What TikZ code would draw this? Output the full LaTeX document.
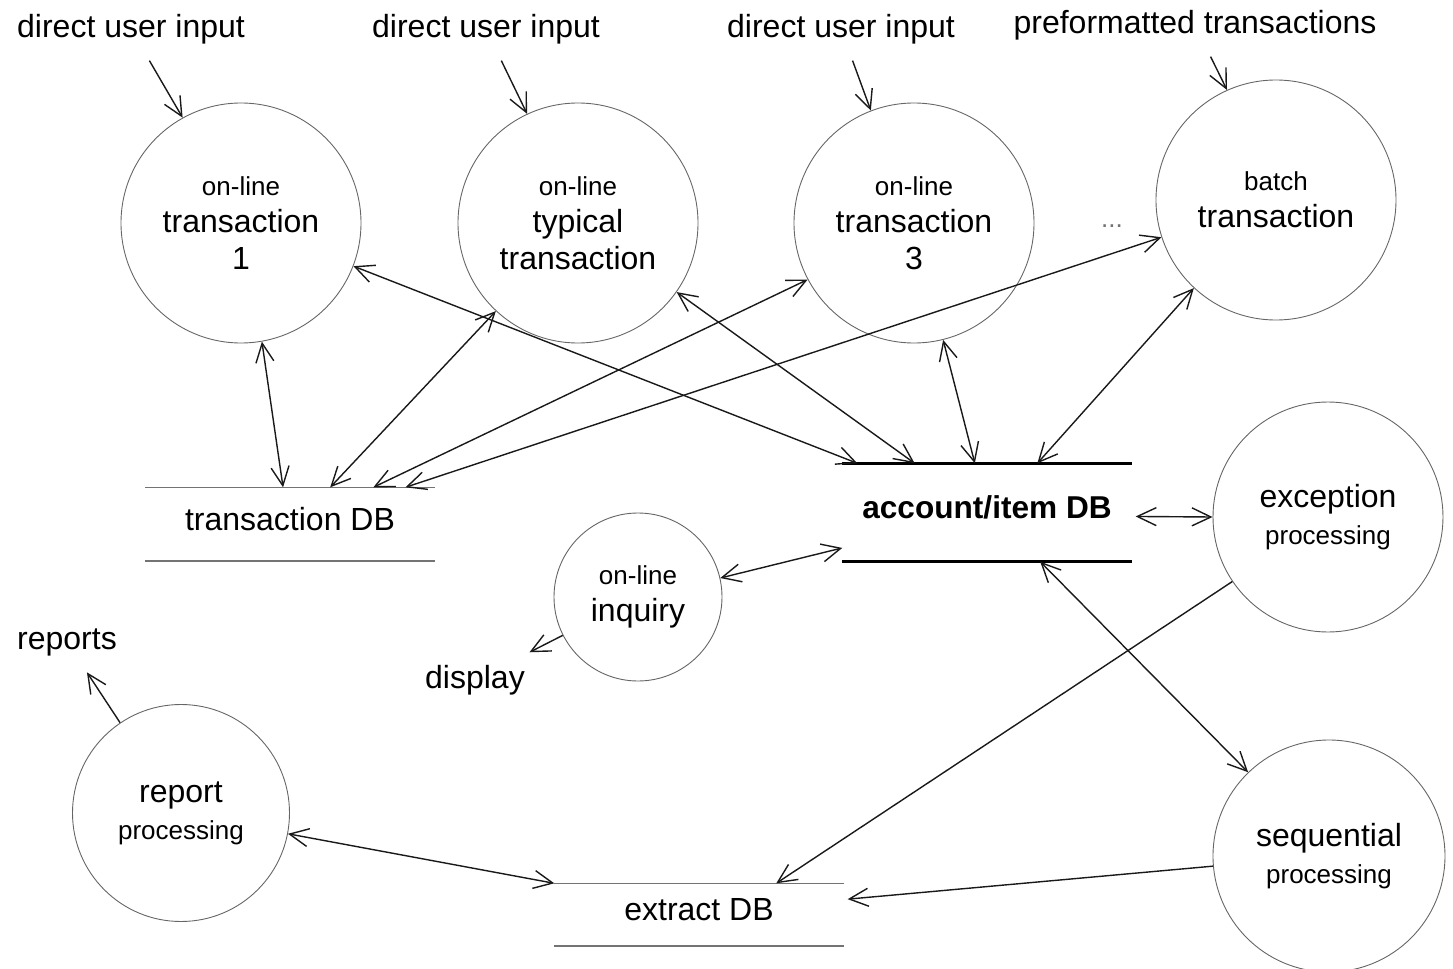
\documentclass[tikz,border=0pt]{standalone}
\usepackage{fontspec}
\setmainfont{Liberation Sans}
\usetikzlibrary{arrows.meta,calc}

\newcommand{\smalltxt}[1]{{\fontsize{13}{15}\selectfont #1}}

\tikzset{
  proc/.style={circle, draw=black!60, line width=0.45pt, inner sep=0pt, minimum size=#1, align=center},
  proc/.default=120pt,
  store/.style={inner sep=0pt, minimum width=144pt},
  storeline/.style={draw=black!55, line width=0.8pt},
  flowlabel/.style={inner xsep=2pt, inner ysep=8pt},
}

\begin{document}
\begin{tikzpicture}[x=0.5pt, y=-0.5pt, line width=0.7pt, draw=black!90,
    >={Straight Barb[length=9.5pt,width=9pt]},
    every node/.style={font=\fontsize{16}{18.5}\selectfont}]
    \useasboundingbox (0,0) rectangle (1453,969);

    % processes
    \node[proc] (t1) at (241,223) {\smalltxt{on-line}\\ transaction\\ 1};
    \node[proc] (t2) at (578,223) {\smalltxt{on-line}\\ typical\\ transaction};
    \node[proc] (t3) at (914,223) {\smalltxt{on-line}\\ transaction\\ 3};
    \node[proc] (bt) at (1276,200) {\smalltxt{batch}\\ transaction};
    \node[proc=115pt] (exc) at (1328,517) {exception\\ \smalltxt{processing}};
    \node[proc=84pt] (inq) at (638,597) {\smalltxt{on-line}\\ inquiry};
    \node[proc=108.5pt] (rep) at (181,813) {report\\ \smalltxt{processing}};
    \node[proc=116pt] (seq) at (1329,856) {sequential\\ \smalltxt{processing}};

    % data stores
    \node[store, text height=21pt, text depth=15pt] (tdb) at (290,524) {transaction DB};
    \node[store, text height=27pt, text depth=21.5pt, font=\fontsize{15.8}{18}\selectfont\bfseries] (acc) at (987,512.5) {account/item DB};
    \node[store, text height=18pt, text depth=12.5pt] (xdb) at (699,914.5) {extract DB};
    \draw[storeline] (tdb.north west) -- (tdb.north east) (tdb.south west) -- (tdb.south east);
    \draw[storeline] (xdb.north west) -- (xdb.north east) (xdb.south west) -- (xdb.south east);
    \draw[draw=black, line width=1.7pt] (acc.north west) -- (acc.north east) (acc.south west) -- (acc.south east);

    % outside
    \node[flowlabel] (in1) at (131,29) {direct user input};
    \node[flowlabel] (in2) at (486,29) {direct user input};
    \node[flowlabel] (in3) at (841,29) {direct user input};
    \node[flowlabel] (pre) at (1195,25) {preformatted transactions};
    \node[flowlabel] (repout) at (67,642) {reports};
    \node[flowlabel] (disp) at (475,680) {display};
    \node[text=black!55, font=\fontsize{13}{15}\selectfont] (more) at (1112,226) {...};

    \draw[->] (in1) -- (t1.119);
    \draw[->] (in2) -- (t2.115);
    \draw[->] (in3) -- (t3.111);
    \draw[->] (pre) -- (bt.114);

    % transaction DB
    \draw[<->] (t1.-80) -- ($(tdb.north west)!0.476!(tdb.north east)$);
    \draw[<->] (t2.227) -- ($(tdb.north west)!0.639!(tdb.north east)$);
    \draw[<->] (t3.208) -- ($(tdb.north west)!0.788!(tdb.north east)$);
    \draw[<->] (bt.198) -- ($(tdb.north west)!0.899!(tdb.north east)$);

    % account/item DB
    \draw[<->] (t1.-21) -- ($(acc.north west)!0.052!(acc.north east)$);
    \draw[<->] (t2.-35) -- ($(acc.north west)!0.25!(acc.north east)$);
    \draw[<->] (t3.-76) -- ($(acc.north west)!0.458!(acc.north east)$);
    \draw[<->] (bt.227) -- ($(acc.north west)!0.674!(acc.north east)$);
    \draw[<->, shorten <=2pt] ($(acc.north east)!0.54!(acc.south east)$) -- (exc.180);
    \draw[<->] (inq.13) -- ($(acc.north west)!0.86!(acc.south west)$);
    \draw[<->] ($(acc.south west)!0.684!(acc.south east)$) -- (seq.134);
    \draw[->] (inq.207) -- (disp);

    % extract DB
    \draw[->] (exc.214) -- ($(xdb.north west)!0.767!(xdb.north east)$);
    \draw[->, shorten >=2pt] (seq.185) -- ($(xdb.north east)!0.26!(xdb.south east)$);
    \draw[<->] (rep.-11) -- (xdb.north west);
    \draw[->] (rep.124) -- (repout);
\end{tikzpicture}
\end{document}
